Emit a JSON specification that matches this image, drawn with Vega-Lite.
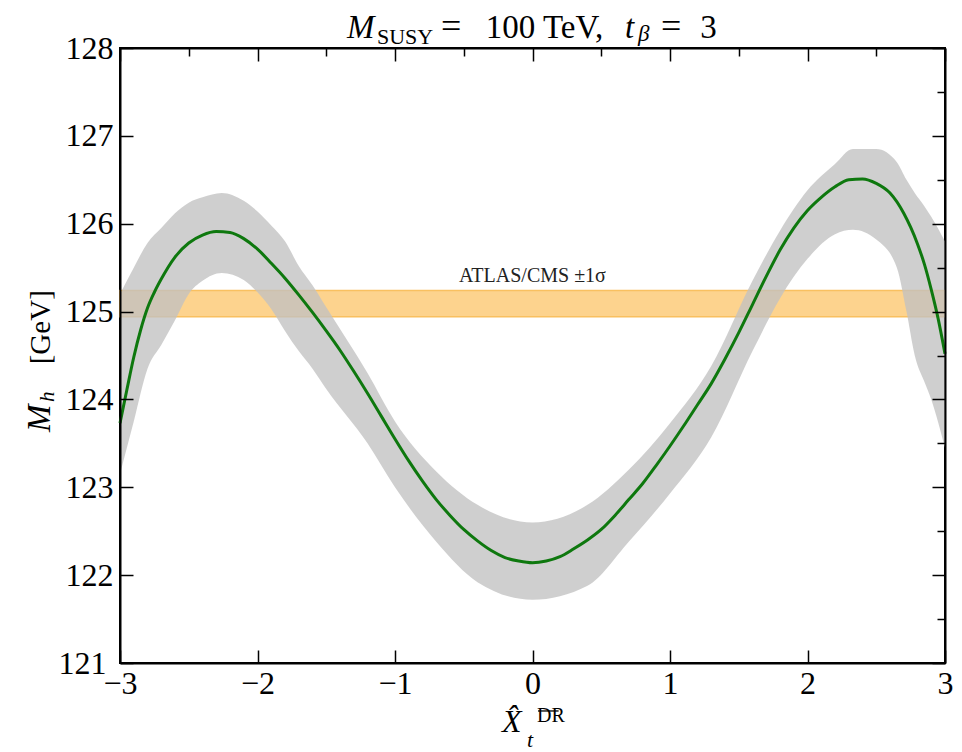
{
  "$schema": "https://vega.github.io/schema/vega-lite/v6.json",
  "width": 825,
  "height": 615,
  "autosize": {"type": "none"},
  "padding": {"left": 120, "top": 48, "right": 17, "bottom": 89},
  "background": "white",
  "config": {
    "view": {"stroke": "black", "strokeWidth": 2},
    "font": "Liberation Serif"
  },
  "datasets": {
    "curve": [
      {"x": -3.0, "mh": 123.73}, {"x": -2.95, "mh": 124.11}, {"x": -2.9, "mh": 124.48}, {"x": -2.85, "mh": 124.79},
      {"x": -2.8, "mh": 125.04}, {"x": -2.75, "mh": 125.22}, {"x": -2.7, "mh": 125.37}, {"x": -2.6, "mh": 125.62},
      {"x": -2.5, "mh": 125.78}, {"x": -2.4, "mh": 125.87}, {"x": -2.3, "mh": 125.91}, {"x": -2.2, "mh": 125.9},
      {"x": -2.1, "mh": 125.83}, {"x": -2.0, "mh": 125.71}, {"x": -1.9, "mh": 125.55}, {"x": -1.8, "mh": 125.38},
      {"x": -1.7, "mh": 125.19}, {"x": -1.6, "mh": 124.99}, {"x": -1.5, "mh": 124.78}, {"x": -1.4, "mh": 124.56},
      {"x": -1.3, "mh": 124.32}, {"x": -1.2, "mh": 124.07}, {"x": -1.1, "mh": 123.81}, {"x": -1.0, "mh": 123.55},
      {"x": -0.9, "mh": 123.3}, {"x": -0.8, "mh": 123.07}, {"x": -0.7, "mh": 122.86}, {"x": -0.6, "mh": 122.68},
      {"x": -0.5, "mh": 122.52}, {"x": -0.4, "mh": 122.39}, {"x": -0.3, "mh": 122.28}, {"x": -0.2, "mh": 122.2},
      {"x": -0.1, "mh": 122.16}, {"x": 0.0, "mh": 122.14}, {"x": 0.1, "mh": 122.16}, {"x": 0.2, "mh": 122.21},
      {"x": 0.3, "mh": 122.3}, {"x": 0.4, "mh": 122.4}, {"x": 0.5, "mh": 122.52}, {"x": 0.6, "mh": 122.68},
      {"x": 0.7, "mh": 122.86}, {"x": 0.8, "mh": 123.04}, {"x": 0.9, "mh": 123.25}, {"x": 1.0, "mh": 123.47},
      {"x": 1.1, "mh": 123.7}, {"x": 1.2, "mh": 123.94}, {"x": 1.3, "mh": 124.18}, {"x": 1.4, "mh": 124.46},
      {"x": 1.5, "mh": 124.76}, {"x": 1.6, "mh": 125.08}, {"x": 1.7, "mh": 125.4}, {"x": 1.8, "mh": 125.7},
      {"x": 1.9, "mh": 125.95}, {"x": 2.0, "mh": 126.15}, {"x": 2.1, "mh": 126.3}, {"x": 2.2, "mh": 126.42},
      {"x": 2.3, "mh": 126.5}, {"x": 2.4, "mh": 126.51}, {"x": 2.5, "mh": 126.46}, {"x": 2.6, "mh": 126.35},
      {"x": 2.7, "mh": 126.12}, {"x": 2.75, "mh": 125.96}, {"x": 2.8, "mh": 125.77}, {"x": 2.85, "mh": 125.54},
      {"x": 2.9, "mh": 125.25}, {"x": 2.95, "mh": 124.92}, {"x": 3.0, "mh": 124.52}
    ],
    "cloud": [
      {"x": -3.0, "lo": 123.15, "hi": 125.2}, {"x": -2.9, "lo": 123.75, "hi": 125.5}, {"x": -2.8, "lo": 124.35, "hi": 125.78},
      {"x": -2.7, "lo": 124.62, "hi": 125.95}, {"x": -2.6, "lo": 124.9, "hi": 126.12}, {"x": -2.5, "lo": 125.2, "hi": 126.24},
      {"x": -2.4, "lo": 125.35, "hi": 126.3}, {"x": -2.26, "lo": 125.44, "hi": 126.35}, {"x": -2.1, "lo": 125.36, "hi": 126.26},
      {"x": -2.0, "lo": 125.22, "hi": 126.14}, {"x": -1.9, "lo": 125.03, "hi": 125.98}, {"x": -1.8, "lo": 124.78, "hi": 125.8},
      {"x": -1.7, "lo": 124.55, "hi": 125.52}, {"x": -1.6, "lo": 124.35, "hi": 125.3}, {"x": -1.5, "lo": 124.12, "hi": 125.05},
      {"x": -1.2, "lo": 123.5, "hi": 124.3}, {"x": -1.0, "lo": 123.0, "hi": 123.75}, {"x": -0.7, "lo": 122.38, "hi": 123.18},
      {"x": -0.4, "lo": 121.92, "hi": 122.8}, {"x": 0.0, "lo": 121.72, "hi": 122.6}, {"x": 0.4, "lo": 121.88, "hi": 122.8},
      {"x": 0.7, "lo": 122.38, "hi": 123.2}, {"x": 1.0, "lo": 122.93, "hi": 123.73}, {"x": 1.3, "lo": 123.57, "hi": 124.38},
      {"x": 1.6, "lo": 124.55, "hi": 125.35}, {"x": 1.8, "lo": 125.15, "hi": 125.92}, {"x": 2.0, "lo": 125.6, "hi": 126.38},
      {"x": 2.2, "lo": 125.88, "hi": 126.68}, {"x": 2.33, "lo": 125.93, "hi": 126.85}, {"x": 2.5, "lo": 125.82, "hi": 126.85},
      {"x": 2.65, "lo": 125.5, "hi": 126.7}, {"x": 2.72, "lo": 125.0, "hi": 126.5}, {"x": 2.78, "lo": 124.5, "hi": 126.35},
      {"x": 2.85, "lo": 124.2, "hi": 126.2}, {"x": 2.9, "lo": 124.0, "hi": 126.08}, {"x": 3.0, "lo": 123.45, "hi": 125.8}
    ],
    "band": [{"xmin": -3, "xmax": 3, "lo": 124.94, "hi": 125.24, "label": "ATLAS/CMS ±1σ"}]
  },
  "layer": [
    {
      "data": {"name": "band"},
      "mark": {"type": "rect", "fill": "#fdd38e", "stroke": "#f9c060", "strokeWidth": 1.5},
      "encoding": {
        "x": {"field": "xmin", "type": "quantitative", "scale": {"domain": [-3, 3], "nice": false, "zero": false},
          "axis": {
            "orient": "bottom", "title": null, "grid": false,
            "values": [-3, -2.5, -2, -1.5, -1, -0.5, 0, 0.5, 1, 1.5, 2, 2.5, 3],
            "format": "d", "labelExpr": "datum.value % 1 === 0 ? datum.label : ''",
            "tickSize": {"condition": {"test": "datum.value % 1 === 0", "value": -13}, "value": -8},
            "tickWidth": 1.5, "tickColor": "black", "domainColor": "black", "domainWidth": 2,
            "labelFont": "Liberation Serif", "labelFontSize": 32, "labelColor": "black", "labelPadding": 18,
            "labelFlush": false, "labelOverlap": false, "zindex": 1
          }},
        "x2": {"field": "xmax"},
        "y": {"field": "lo", "type": "quantitative", "scale": {"domain": [121, 128], "nice": false, "zero": false},
          "axis": {
            "orient": "left", "title": null, "grid": false,
            "values": [121, 121.5, 122, 122.5, 123, 123.5, 124, 124.5, 125, 125.5, 126, 126.5, 127, 127.5, 128],
            "format": "d", "labelExpr": "datum.value % 1 === 0 ? datum.label : ''",
            "tickSize": {"condition": {"test": "datum.value % 1 === 0", "value": -13}, "value": -8},
            "tickWidth": 1.5, "tickColor": "black", "domainColor": "black", "domainWidth": 2,
            "labelFont": "Liberation Serif", "labelFontSize": 32, "labelColor": "black",
            "labelPadding": {"condition": {"test": "datum.value === 121", "value": 27}, "value": 20},
            "labelFlush": false, "labelOverlap": false, "zindex": 1
          }},
        "y2": {"field": "hi"}
      }
    },
    {
      "data": {"name": "cloud"},
      "mark": {"type": "area", "color": "#c2c2c2", "opacity": 0.78, "interpolate": "monotone"},
      "encoding": {
        "x": {"field": "x", "type": "quantitative", "axis": null},
        "y": {"field": "lo", "type": "quantitative", "axis": null},
        "y2": {"field": "hi"}
      }
    },
    {
      "data": {"name": "curve"},
      "mark": {"type": "line", "color": "#0e780e", "strokeWidth": 3, "interpolate": "monotone"},
      "encoding": {
        "x": {"field": "x", "type": "quantitative", "axis": null},
        "y": {"field": "mh", "type": "quantitative", "axis": null}
      }
    },
    {
      "data": {"name": "band"},
      "mark": {"type": "text", "fontSize": 20, "align": "center", "baseline": "alphabetic", "color": "#222222"},
      "encoding": {
        "x": {"datum": 0.0, "axis": null},
        "y": {"datum": 125.34, "axis": null},
        "text": {"field": "label"}
      }
    },
    {
      "data": {"values": [{"t": "M"}]},
      "mark": {"type": "text", "fontSize": 33, "fontStyle": "italic", "align": "left", "baseline": "alphabetic", "color": "black"},
      "encoding": {"x": {"datum": -1.349, "axis": null}, "y": {"datum": 128.114, "axis": null}, "text": {"field": "t"}}
    },
    {
      "data": {"values": [{"t": "SUSY"}]},
      "mark": {"type": "text", "fontSize": 22, "align": "left", "baseline": "alphabetic", "color": "black"},
      "encoding": {"x": {"datum": -1.131, "axis": null}, "y": {"datum": 128.046, "axis": null}, "text": {"field": "t"}}
    },
    {
      "data": {"values": [{"t": "="}]},
      "mark": {"type": "text", "fontSize": 36, "align": "left", "baseline": "alphabetic", "color": "black"},
      "encoding": {"x": {"datum": -0.665, "axis": null}, "y": {"datum": 128.114, "axis": null}, "text": {"field": "t"}}
    },
    {
      "data": {"values": [{"t": "100 TeV,"}]},
      "mark": {"type": "text", "fontSize": 33, "align": "left", "baseline": "alphabetic", "color": "black"},
      "encoding": {"x": {"datum": -0.34, "axis": null}, "y": {"datum": 128.114, "axis": null}, "text": {"field": "t"}}
    },
    {
      "data": {"values": [{"t": "t"}]},
      "mark": {"type": "text", "fontSize": 33, "fontStyle": "italic", "align": "left", "baseline": "alphabetic", "color": "black"},
      "encoding": {"x": {"datum": 0.673, "axis": null}, "y": {"datum": 128.114, "axis": null}, "text": {"field": "t"}}
    },
    {
      "data": {"values": [{"t": "β"}]},
      "mark": {"type": "text", "fontSize": 23, "fontStyle": "italic", "align": "left", "baseline": "alphabetic", "color": "black"},
      "encoding": {"x": {"datum": 0.767, "axis": null}, "y": {"datum": 128.075, "axis": null}, "text": {"field": "t"}}
    },
    {
      "data": {"values": [{"t": "="}]},
      "mark": {"type": "text", "fontSize": 36, "align": "left", "baseline": "alphabetic", "color": "black"},
      "encoding": {"x": {"datum": 0.935, "axis": null}, "y": {"datum": 128.114, "axis": null}, "text": {"field": "t"}}
    },
    {
      "data": {"values": [{"t": "3"}]},
      "mark": {"type": "text", "fontSize": 33, "align": "left", "baseline": "alphabetic", "color": "black"},
      "encoding": {"x": {"datum": 1.22, "axis": null}, "y": {"datum": 128.114, "axis": null}, "text": {"field": "t"}}
    },
    {
      "data": {"values": [{"t": "X̂"}]},
      "mark": {"type": "text", "fontSize": 32, "fontStyle": "italic", "align": "left", "baseline": "alphabetic", "color": "black"},
      "encoding": {"x": {"datum": -0.222, "axis": null}, "y": {"datum": 120.215, "axis": null}, "text": {"field": "t"}}
    },
    {
      "data": {"values": [{"t": "t"}]},
      "mark": {"type": "text", "fontSize": 22, "fontStyle": "italic", "align": "left", "baseline": "alphabetic", "color": "black"},
      "encoding": {"x": {"datum": -0.04, "axis": null}, "y": {"datum": 120.044, "axis": null}, "text": {"field": "t"}}
    },
    {
      "data": {"values": [{"t": "DR"}]},
      "mark": {"type": "text", "fontSize": 20, "align": "left", "baseline": "alphabetic", "color": "black"},
      "encoding": {"x": {"datum": 0.033, "axis": null}, "y": {"datum": 120.332, "axis": null}, "text": {"field": "t"}}
    },
    {
      "data": {"values": [{"t": "bar"}]},
      "mark": {"type": "rule", "color": "black", "strokeWidth": 1.3},
      "encoding": {"x": {"datum": 0.04, "axis": null}, "x2": {"datum": 0.19}, "y": {"datum": 120.454, "axis": null}}
    },
    {
      "data": {"values": [{"t": "M"}]},
      "mark": {"type": "text", "fontSize": 33, "fontStyle": "italic", "angle": 270, "align": "left", "baseline": "alphabetic", "color": "black"},
      "encoding": {"x": {"datum": -3.509, "axis": null}, "y": {"datum": 123.63, "axis": null}, "text": {"field": "t"}}
    },
    {
      "data": {"values": [{"t": "h"}]},
      "mark": {"type": "text", "fontSize": 21, "fontStyle": "italic", "angle": 270, "align": "left", "baseline": "alphabetic", "color": "black"},
      "encoding": {"x": {"datum": -3.48, "axis": null}, "y": {"datum": 123.97, "axis": null}, "text": {"field": "t"}}
    },
    {
      "data": {"values": [{"t": "[GeV]"}]},
      "mark": {"type": "text", "fontSize": 29, "angle": 270, "align": "left", "baseline": "alphabetic", "color": "black"},
      "encoding": {"x": {"datum": -3.509, "axis": null}, "y": {"datum": 124.4, "axis": null}, "text": {"field": "t"}}
    },
    {
      "data": {"values": [{"x": 0, "y": 125}]},
      "mark": {"type": "point", "opacity": 0},
      "encoding": {
        "x": {"field": "x", "type": "quantitative", "scale": {"domain": [-3, 3], "nice": false, "zero": false},
          "axis": {
            "orient": "top", "title": null, "grid": false, "labels": false,
            "values": [-3, -2.5, -2, -1.5, -1, -0.5, 0, 0.5, 1, 1.5, 2, 2.5, 3],
            "tickSize": {"condition": {"test": "datum.value % 1 === 0", "value": -13}, "value": -8},
            "tickWidth": 1.5, "tickColor": "black", "domainColor": "black", "domainWidth": 2, "zindex": 1
          }},
        "y": {"field": "y", "type": "quantitative", "scale": {"domain": [121, 128], "nice": false, "zero": false},
          "axis": {
            "orient": "right", "title": null, "grid": false, "labels": false,
            "values": [121, 121.5, 122, 122.5, 123, 123.5, 124, 124.5, 125, 125.5, 126, 126.5, 127, 127.5, 128],
            "tickSize": {"condition": {"test": "datum.value % 1 === 0", "value": -13}, "value": -8},
            "tickWidth": 1.5, "tickColor": "black", "domainColor": "black", "domainWidth": 2, "zindex": 1
          }}
      }
    }
  ],
  "resolve": {"axis": {"x": "independent", "y": "independent"}}
}
